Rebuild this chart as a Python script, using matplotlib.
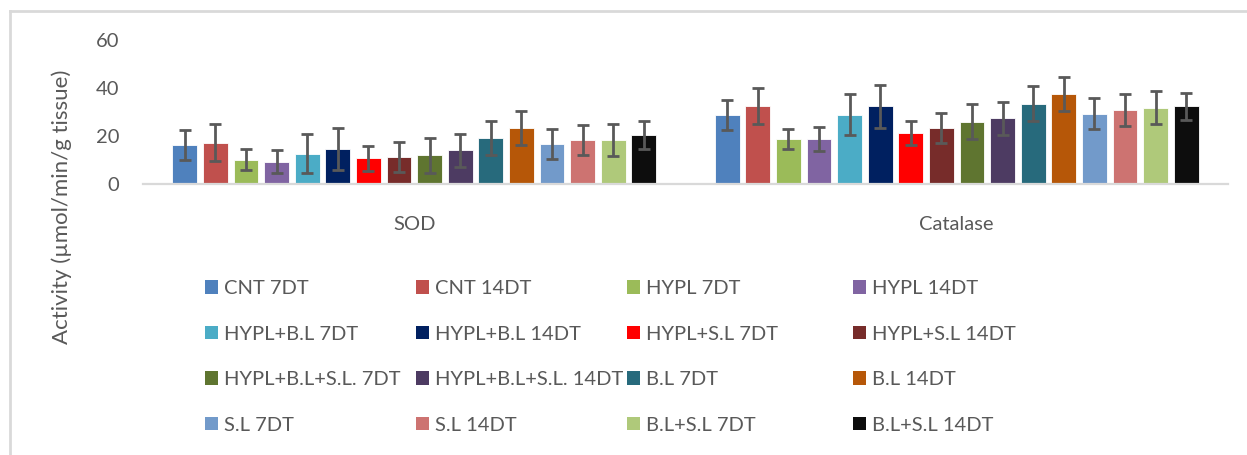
import numpy as np
import matplotlib
matplotlib.use("Agg")
import matplotlib.pyplot as plt
from matplotlib.patches import Patch
from matplotlib.lines import Line2D

plt.rcParams["font.family"] = ["Lato", "DejaVu Sans"]

# data
categories = ["SOD", "Catalase"]
groups = ["CNT 7DT", "CNT 14DT", "HYPL 7DT", "HYPL 14DT",
          "HYPL+B.L 7DT", "HYPL+B.L 14DT", "HYPL+S.L 7DT", "HYPL+S.L 14DT",
          "HYPL+B.L+S.L. 7DT", "HYPL+B.L+S.L. 14DT", "B.L 7DT", "B.L 14DT",
          "S.L 7DT", "S.L 14DT", "B.L+S.L 7DT", "B.L+S.L 14DT"]
sod = [16.3, 17.2, 10.2, 9.2, 12.6, 14.7, 10.7, 11.4,
       11.9, 14.0, 19.1, 23.5, 16.7, 18.4, 18.4, 20.4]
sod_err = [6.2, 7.6, 4.5, 4.8, 8.1, 8.8, 5.2, 6.2,
           7.2, 6.8, 7.2, 7.1, 6.3, 6.2, 6.6, 5.9]
catalase = [28.7, 32.4, 18.8, 18.8, 28.9, 32.4, 21.3, 23.3,
            25.9, 27.4, 33.5, 37.6, 29.3, 30.9, 31.8, 32.4]
catalase_err = [6.3, 7.5, 4.2, 4.9, 8.4, 8.9, 5.0, 6.3,
                7.3, 6.9, 7.3, 7.1, 6.4, 6.6, 6.8, 5.6]
colors = ["#4f81bd", "#c0504d", "#9bbb59", "#8064a2",
          "#4bacc6", "#002060", "#ff0000", "#772c2a",
          "#5f7530", "#4d3b62", "#276a7c", "#b65708",
          "#729aca", "#cd7371", "#afc97a", "#0d0d0d"]
yticks = [0, 20, 40, 60]

W, H = 1247, 455
fig = plt.figure(figsize=(W / 100, H / 100), dpi=100)
ax = fig.add_axes([143 / W, 1 - 184 / H, (1228 - 143) / W, (184 - 40) / H])

txt = "#595959"
slot = 0.0564
x = np.arange(len(categories))
for i, g in enumerate(groups):
    vals = [sod[i], catalase[i]]
    errs = [sod_err[i], catalase_err[i]]
    ax.bar(x + (i - 7.5) * slot, vals, width=slot * 0.81, color=colors[i],
           edgecolor="white", linewidth=0.6, label=g, zorder=2)
    ax.errorbar(x + (i - 7.5) * slot, vals, yerr=errs, fmt="none",
                ecolor=txt, elinewidth=2, capsize=4.6, capthick=2, zorder=3)

ax.set_xlim(-0.5, 1.5)
ax.set_ylim(0, 60)
ax.set_yticks(yticks)
ax.set_xticks(x)
ax.set_xticklabels(categories)
for s in ["top", "right", "left"]:
    ax.spines[s].set_visible(False)
ax.spines["bottom"].set_color("#d9d9d9")
ax.spines["bottom"].set_linewidth(1.6)
ax.tick_params(axis="y", length=0, pad=17, labelsize=14.5, labelcolor=txt)
ax.tick_params(axis="x", length=0, pad=23, labelsize=14.5, labelcolor=txt)

fig.text(62 / W, 1 - 207 / H, "Activity (µmol/min/g tissue)", rotation=90,
         ha="center", va="center", fontsize=16, color=txt)

# legend: 4 columns placed like the reference
handles = [Patch(facecolor=c, edgecolor="none") for c in colors]
col_x = [205, 416, 627, 853]
for c in range(4):
    leg = fig.legend(handles[c::4], groups[c::4], loc="upper left",
                     bbox_to_anchor=(col_x[c] / W, 1 - 280 / H),
                     frameon=False, fontsize=14.5, borderpad=0, borderaxespad=0,
                     handlelength=0.65, handleheight=0.65, handletextpad=0.3,
                     labelspacing=1.42, labelcolor=txt)

# chart frame (left and top edge visible)
fig.add_artist(Line2D([9.5 / W, 9.5 / W], [0, 1 - 11 / H], color="#d9d9d9",
                      lw=2, transform=fig.transFigure))
fig.add_artist(Line2D([9.5 / W, 1], [1 - 11 / H, 1 - 11 / H], color="#d9d9d9",
                      lw=2, transform=fig.transFigure))

fig.savefig("out.png", dpi=100)
